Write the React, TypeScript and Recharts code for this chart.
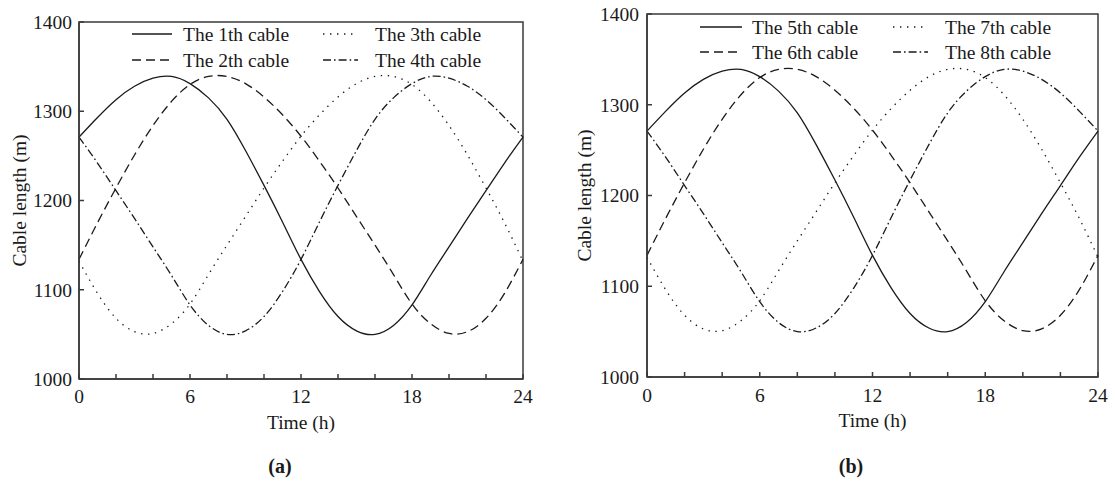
import React from "react";
import {
  LineChart,
  Line,
  XAxis,
  YAxis,
  ReferenceArea,
  Legend
} from "recharts";

// hours 0..24
const hours = [0, 1, 2, 3, 4, 5, 6, 7, 8, 9, 10, 11, 12, 13, 14, 15, 16, 17, 18, 19, 20, 21, 22, 23, 24];

// panel (a)
const cable1 = [1271, 1293, 1313, 1328, 1337, 1339, 1331, 1315, 1291, 1256, 1217, 1176, 1134, 1098, 1070, 1054, 1050, 1060, 1083, 1116, 1148, 1180, 1211, 1242, 1271];
const cable2 = [1134, 1175, 1214, 1251, 1284, 1311, 1330, 1339, 1339, 1331, 1316, 1296, 1272, 1244, 1214, 1182, 1150, 1117, 1084, 1062, 1051, 1053, 1068, 1096, 1134];
const cable3 = [1132, 1096, 1068, 1053, 1051, 1062, 1084, 1117, 1150, 1182, 1214, 1244, 1272, 1296, 1316, 1331, 1339, 1339, 1330, 1311, 1284, 1251, 1214, 1175, 1132];
const cable4 = [1271, 1242, 1211, 1180, 1148, 1116, 1083, 1060, 1050, 1054, 1070, 1098, 1134, 1176, 1217, 1256, 1291, 1315, 1331, 1339, 1337, 1328, 1313, 1293, 1271];

// panel (b)
const cable5 = [1271, 1293, 1313, 1328, 1337, 1339, 1331, 1315, 1291, 1256, 1217, 1176, 1134, 1098, 1070, 1054, 1050, 1060, 1083, 1116, 1148, 1180, 1211, 1242, 1271];
const cable6 = [1134, 1175, 1214, 1251, 1284, 1311, 1330, 1339, 1339, 1331, 1316, 1296, 1272, 1244, 1214, 1182, 1150, 1117, 1084, 1062, 1051, 1053, 1068, 1096, 1134];
const cable7 = [1132, 1096, 1068, 1053, 1051, 1062, 1084, 1117, 1150, 1182, 1214, 1244, 1272, 1296, 1316, 1331, 1339, 1339, 1330, 1311, 1284, 1251, 1214, 1175, 1132];
const cable8 = [1271, 1242, 1211, 1180, 1148, 1116, 1083, 1060, 1050, 1054, 1070, 1098, 1134, 1176, 1217, 1256, 1291, 1315, 1331, 1339, 1337, 1328, 1313, 1293, 1271];

const xTicks = [0, 2, 4, 6, 8, 10, 12, 14, 16, 18, 20, 22, 24];
const yTicks = [1000, 1100, 1200, 1300, 1400];

const namesA = ["The 1th cable", "The 2th cable", "The 3th cable", "The 4th cable"];
const namesB = ["The 5th cable", "The 6th cable", "The 7th cable", "The 8th cable"];

const FONT = "'Liberation Serif', 'Times New Roman', serif";
const INK = "#1a1a1a";
const AXIS = "#3a3a3a";
const dashes = [undefined, "9 5", "1.4 5.6", "8 3 1.6 3"];

const makeRows = (series: number[][]) =>
  hours.map((t, i) => ({ t, c0: series[0][i], c1: series[1][i], c2: series[2][i], c3: series[3][i] }));

const dataA = makeRows([cable1, cable2, cable3, cable4]);
const dataB = makeRows([cable5, cable6, cable7, cable8]);

interface LegendPos {
  rows: number[];
  sampleX: number[];
  sampleW: number[];
  textX: number[];
}

const LegendBox = ({ names, pos }: { names: string[]; pos: LegendPos }) => (
  <svg width={520} height={80} style={{ overflow: "visible", display: "block" }}>
    {names.map((name, i) => {
      const col = i < 2 ? 0 : 1;
      const row = i % 2;
      const y = pos.rows[row];
      return (
        <g key={name}>
          <line
            x1={pos.sampleX[col]}
            x2={pos.sampleX[col] + pos.sampleW[col]}
            y1={y}
            y2={y}
            stroke={INK}
            strokeWidth={1.4}
            strokeDasharray={dashes[i]}
          />
          <text x={pos.textX[col]} y={y} dominantBaseline="central" fontFamily={FONT} fontSize={19.5} fill={INK}>
            {name}
          </text>
        </g>
      );
    })}
  </svg>
);

interface PanelProps {
  data: any[];
  names: string[];
  width: number;
  height: number;
  margin: { top: number; right: number; left: number; bottom: number };
  yWidth: number;
  xHeight: number;
  xTickMargin: number;
  yTickMargin: number;
  legend: LegendPos;
}

const Panel = ({ data, names, width, height, margin, yWidth, xHeight, xTickMargin, yTickMargin, legend }: PanelProps) => (
  <LineChart width={width} height={height} data={data} margin={margin}>
    <XAxis
      dataKey="t"
      type="number"
      domain={[0, 24]}
      ticks={xTicks}
      height={xHeight}
      tickSize={-5}
      tickMargin={xTickMargin}
      interval={0}
      tickFormatter={(v: number) => (v % 6 === 0 ? String(v) : "")}
      stroke={AXIS}
      strokeWidth={1.5}
      tick={{ fill: INK, fontFamily: FONT, fontSize: 19.5 }}
    />
    <YAxis
      type="number"
      domain={[1000, 1400]}
      ticks={yTicks}
      width={yWidth}
      tickSize={-5}
      tickMargin={yTickMargin}
      interval={0}
      stroke={AXIS}
      strokeWidth={1.5}
      tick={{ fill: INK, fontFamily: FONT, fontSize: 19.5 }}
    />
    <ReferenceArea x1={0} x2={24} y1={1000} y2={1400} fill="none" stroke={AXIS} strokeWidth={1.5} />
    {["c0", "c1", "c2", "c3"].map((k, i) => (
      <Line
        key={k}
        dataKey={k}
        name={names[i]}
        type="natural"
        stroke={INK}
        strokeWidth={1.3}
        strokeDasharray={dashes[i]}
        dot={false}
        activeDot={false}
        isAnimationActive={false}
      />
    ))}
    <Legend
      layout="vertical"
      align="center"
      verticalAlign="middle"
      wrapperStyle={{ left: 0, top: 0, width: 520, height: 80 }}
      content={() => <LegendBox names={names} pos={legend} />}
    />
  </LineChart>
);

const App = () => (
  <div style={{ position: "absolute", left: 0, top: 0, width: 1115, height: 484, background: "#fff" }}>
    <div style={{ position: "absolute", left: 0, top: 0 }}>
      <Panel
        data={dataA}
        names={namesA}
        width={560}
        height={430}
        margin={{ top: 22, right: 37, left: 0, bottom: 0 }}
        yWidth={79}
        xHeight={51}
        xTickMargin={15}
        yTickMargin={12}
        legend={{ rows: [34, 60], sampleX: [132, 323], sampleW: [40, 35], textX: [183, 375] }}
      />
    </div>
    <div style={{ position: "absolute", left: 560, top: 0 }}>
      <Panel
        data={dataB}
        names={namesB}
        width={555}
        height={430}
        margin={{ top: 14, right: 17, left: 0, bottom: 0 }}
        yWidth={87}
        xHeight={53}
        xTickMargin={16}
        yTickMargin={13}
        legend={{ rows: [27, 52], sampleX: [140, 333], sampleW: [42, 35], textX: [192, 385] }}
      />
    </div>
    <svg
      width={1115}
      height={484}
      style={{ position: "absolute", left: 0, top: 0, pointerEvents: "none" }}
      fontFamily={FONT}
      fill={INK}
    >
      <text x={19} y={200.5} transform="rotate(-90 19 200.5)" textAnchor="middle" dominantBaseline="central" fontSize={19.5}>
        Cable length (m)
      </text>
      <text x={584} y={195.5} transform="rotate(-90 584 195.5)" textAnchor="middle" dominantBaseline="central" fontSize={19.5}>
        Cable length (m)
      </text>
      <text x={301} y={429} textAnchor="middle" fontSize={19.5}>Time (h)</text>
      <text x={872.5} y={427} textAnchor="middle" fontSize={19.5}>Time (h)</text>
      <text x={280} y={473} textAnchor="middle" fontSize={20} fontWeight="bold">(a)</text>
      <text x={851} y={473} textAnchor="middle" fontSize={20} fontWeight="bold">(b)</text>
    </svg>
  </div>
);

export default App;
